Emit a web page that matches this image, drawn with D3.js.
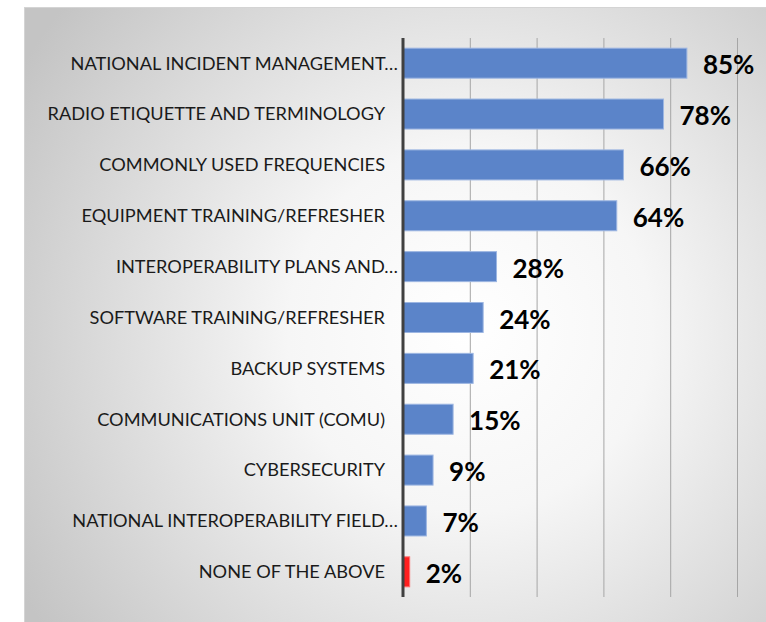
<!DOCTYPE html>
<html>
<head>
<meta charset="utf-8">
<script src="https://cdn.jsdelivr.net/npm/d3@7"></script>
<style>
  html, body { margin: 0; padding: 0; background: #ffffff; }
  svg { display: block; }
</style>
</head>
<body>
<svg id="chart" width="766" height="622"></svg>
<script>
const categories = [
  "NATIONAL INCIDENT MANAGEMENT…",
  "RADIO ETIQUETTE AND TERMINOLOGY",
  "COMMONLY USED FREQUENCIES",
  "EQUIPMENT TRAINING/REFRESHER",
  "INTEROPERABILITY PLANS AND…",
  "SOFTWARE TRAINING/REFRESHER",
  "BACKUP SYSTEMS",
  "COMMUNICATIONS UNIT (COMU)",
  "CYBERSECURITY",
  "NATIONAL INTEROPERABILITY FIELD…",
  "NONE OF THE ABOVE"
];
const values = [85, 78, 66, 64, 28, 24, 21, 15, 9, 7, 2];
const highlight = [false, false, false, false, false, false, false, false, false, false, true];
const gridTicks = [20, 40, 60, 80, 100];

const svg = d3.select("#chart");
const W = 766, H = 622;

// background panel with gradient
const defs = svg.append("defs");
const grad = defs.append("radialGradient")
  .attr("id", "bg").attr("gradientUnits", "userSpaceOnUse")
  .attr("cx", 470).attr("cy", 330).attr("r", 520);
grad.append("stop").attr("offset", "0%").attr("stop-color", "#ffffff");
grad.append("stop").attr("offset", "35%").attr("stop-color", "#f6f6f6");
grad.append("stop").attr("offset", "100%").attr("stop-color", "#c4c4c4");

svg.append("rect").attr("x", 24.5).attr("y", 7.5).attr("width", W - 24).attr("height", H - 7)
  .attr("fill", "url(#bg)").attr("stroke", "#d4d4d4").attr("stroke-width", 1);

const x0 = 403, x100 = 737, yTop = 38, yBot = 597;
const x = d3.scaleLinear().domain([0, 100]).range([x0, x100]);
const y = d3.scaleBand().domain(categories).range([yTop, yBot]).paddingInner(0.41).paddingOuter(0.2);

// gridlines
svg.append("g").selectAll("line").data(gridTicks).join("line")
  .attr("x1", d => x(d) + 0.5).attr("x2", d => x(d) + 0.5)
  .attr("y1", yTop).attr("y2", yBot)
  .attr("stroke", "#a6a6a6").attr("stroke-width", 1);

// bars
svg.append("g").selectAll("rect").data(categories).join("rect")
  .attr("x", x(0))
  .attr("y", (d) => y(d))
  .attr("width", (d, i) => x(values[i]) - x(0))
  .attr("height", y.bandwidth())
  .attr("fill", (d, i) => highlight[i] ? "#ff1f1f" : "#5b84c9")
  .attr("stroke", (d, i) => highlight[i] ? "#ff7070" : "#9db6e2")
  .attr("stroke-width", 1);

// axis line
svg.append("line").attr("x1", x0).attr("x2", x0).attr("y1", yTop).attr("y2", yBot)
  .attr("stroke", "#404040").attr("stroke-width", 3);

// category labels
svg.append("g").selectAll("text").data(categories).join("text")
  .attr("x", d => d.endsWith("…") ? 398 : 385)
  .attr("y", d => y(d) + y.bandwidth() / 2)
  .attr("dy", "0.35em")
  .attr("text-anchor", "end")
  .attr("font-family", "Lato, 'Liberation Sans', sans-serif")
  .attr("font-size", 18.2)
  .attr("fill", "#1a1a1a")
  .text(d => d);

// value labels
svg.append("g").selectAll("text").data(categories).join("text")
  .attr("x", (d, i) => x(values[i]) + 16)
  .attr("y", d => y(d) + y.bandwidth() / 2 + 2)
  .attr("dy", "0.35em")
  .attr("font-family", "Lato, 'Liberation Sans', sans-serif")
  .attr("font-weight", "bold")
  .attr("font-size", 26)
  .attr("fill", "#000000")
  .text((d, i) => values[i] + "%");
</script>
</body>
</html>
